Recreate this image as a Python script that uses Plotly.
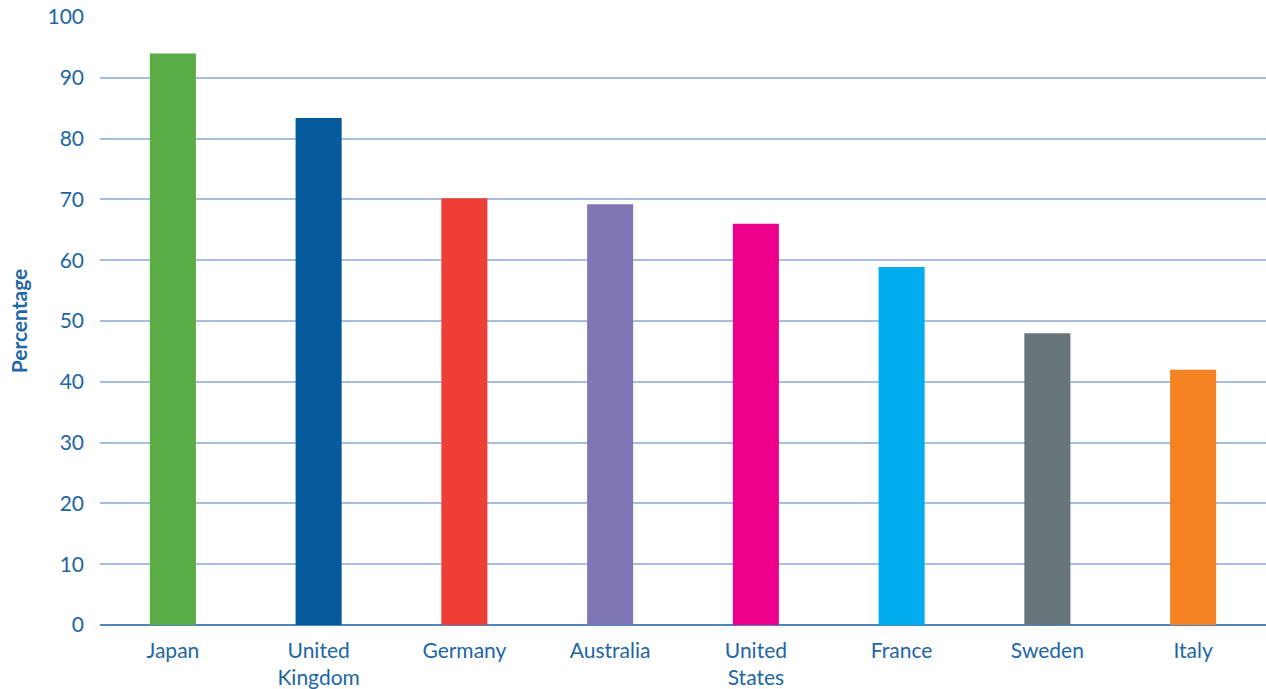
import plotly.graph_objects as go

countries = ["Japan", "United<br>Kingdom", "Germany", "Australia", "United<br>States", "France", "Sweden", "Italy"]
values = [94, 83.4, 70.2, 69.2, 66, 58.9, 48, 42]
colors = ["#5aac44", "#045a9c", "#ef3e36", "#7f77b6", "#ec008c", "#00aeef", "#69747b", "#f58220"]
y_ticks = [0, 10, 20, 30, 40, 50, 60, 70, 80, 90, 100]

text_color = "#2166a5"
font_family = "Lato, 'Open Sans', sans-serif"

fig = go.Figure(go.Bar(
    x=countries,
    y=values,
    marker=dict(color=colors, line=dict(width=0)),
    width=0.316,
    hoverinfo="x+y",
))

fig.update_layout(
    width=1266,
    height=689,
    margin=dict(l=100, r=0, t=17, b=64),
    paper_bgcolor="white",
    plot_bgcolor="white",
    showlegend=False,
    font=dict(family=font_family, color=text_color, size=21),
    xaxis=dict(
        showgrid=False,
        showline=False,
        ticks="",
        automargin=False,
        tickfont=dict(size=21, color=text_color),
        ticklabelstandoff=11,
    ),
    yaxis=dict(
        range=[0, 100],
        tickvals=y_ticks,
        automargin=False,
        showgrid=True,
        gridcolor="#a9bde0",
        gridwidth=1.5,
        zeroline=True,
        zerolinecolor="#4a86bf",
        zerolinewidth=2,
        showline=False,
        ticks="",
        ticklabelstandoff=15,
        tickfont=dict(size=21, color=text_color),
        title=dict(text="<b>Percentage</b>", font=dict(size=21, color=text_color), standoff=14),
    ),
)

fig.write_html("out.html")
